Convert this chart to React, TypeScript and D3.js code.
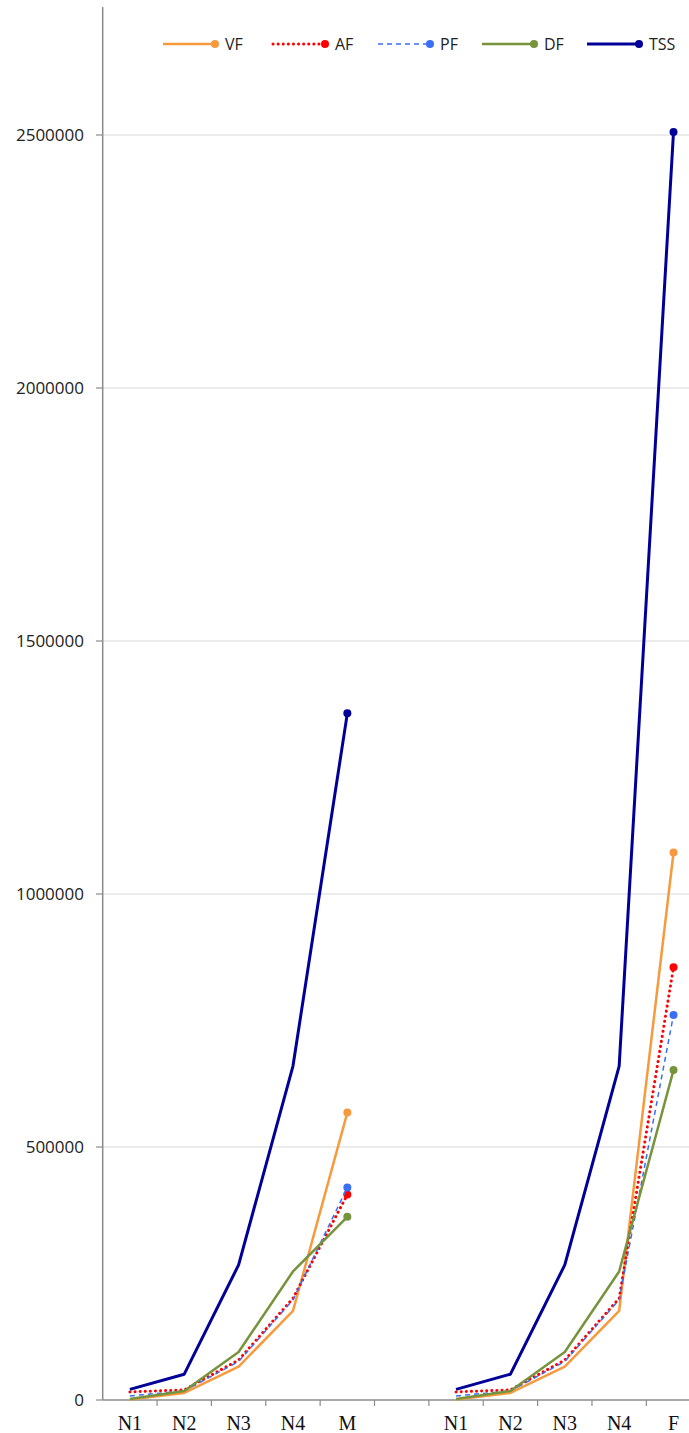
import React from "react";
import * as d3 from "d3";

const categories = ["N1", "N2", "N3", "N4", "M", "", "N1", "N2", "N3", "N4", "F"];

const VF = [1000, 14000, 66000, 176000, 568000, null, 1000, 14000, 66000, 176000, 1082000];
const AF = [16000, 20000, 79000, 201000, 406000, null, 16000, 20000, 79000, 201000, 855000];
const PF = [8000, 18000, 76000, 198000, 420000, null, 8000, 18000, 76000, 198000, 761000];
const DF = [2000, 18000, 95000, 254000, 362000, null, 2000, 18000, 95000, 254000, 652000];
const TSS = [21000, 51000, 267000, 660000, 1357000, null, 21000, 51000, 267000, 660000, 2506000];

const yTicks = [0, 500000, 1000000, 1500000, 2000000, 2500000];

const series = [
  { name: "VF", values: VF, color: "#F79A3E", width: 2.5, dash: null, cap: "butt" },
  { name: "AF", values: AF, color: "#FF0000", width: 3, dash: "0.1 5", cap: "round" },
  { name: "PF", values: PF, color: "#3A6EF5", width: 1.5, dash: "5 4", cap: "butt" },
  { name: "DF", values: DF, color: "#77933C", width: 2.5, dash: null, cap: "butt" },
  { name: "TSS", values: TSS, color: "#000099", width: 3, dash: null, cap: "butt" },
];

const W = 689;
const H = 1433;

export default function App() {
  const x = d3.scaleBand<number>()
    .domain(categories.map((_, i) => i))
    .range([102.7, 700.7]);

  const y = d3.scaleLinear()
    .domain([0, 2500000])
    .range([1400, 135]);

  const cx = (i: number) => (x(i) as number) + x.bandwidth() / 2;

  const line = d3.line<number | null>()
    .defined(d => d != null)
    .x((_, i) => cx(i))
    .y(d => y(d as number));

  // marker on last point of each group
  const endIdx = [4, 10];

  const legendX = [163, 273, 378, 482, 587];
  const legendY = 44;

  return (
    <svg width={W} height={H} style={{ position: "absolute", left: 0, top: 0 }}
      fontFamily="'Open Sans', sans-serif">
      <rect width={W} height={H} fill="#fff" />

      {/* gridlines */}
      {yTicks.slice(1).map(t => (
        <line key={t} x1={102.7} x2={W} y1={y(t)} y2={y(t)} stroke="#D9D9D9" strokeWidth={1.2} />
      ))}

      {/* y axis */}
      <line x1={102.7} x2={102.7} y1={7} y2={1400} stroke="#8C8C8C" strokeWidth={1.5} />
      {yTicks.map(t => (
        <g key={t}>
          <line x1={96} x2={102.7} y1={y(t)} y2={y(t)} stroke="#8C8C8C" strokeWidth={1.2} />
          <text x={84} y={y(t)} dy="0.35em" textAnchor="end" fontSize={17} fill="#222">{t}</text>
        </g>
      ))}

      {/* x axis */}
      <line x1={102.7} x2={W} y1={1400} y2={1400} stroke="#8C8C8C" strokeWidth={1.5} />
      {categories.map((c, i) => (
        <g key={i}>
          <line x1={(x(i) as number) + x.bandwidth()} x2={(x(i) as number) + x.bandwidth()}
            y1={1400} y2={1406} stroke="#8C8C8C" strokeWidth={1.2} />
          <text x={cx(i)} y={1430} textAnchor="middle" fontSize={20}
            fontFamily="'Liberation Serif', 'Times New Roman', serif" fill="#111">{c}</text>
        </g>
      ))}

      {/* series */}
      {series.map(s => (
        <g key={s.name}>
          <path d={line(s.values) || ""} fill="none" stroke={s.color} strokeWidth={s.width}
            strokeDasharray={s.dash || undefined} strokeLinecap={s.cap as any} strokeLinejoin="round" />
          {endIdx.map(i => (
            <circle key={i} cx={cx(i)} cy={y(s.values[i] as number)} r={4} fill={s.color} />
          ))}
        </g>
      ))}

      {/* legend */}
      {series.map((s, k) => (
        <g key={s.name} transform={`translate(${legendX[k]},${legendY})`}>
          <line x1={0} x2={52} y1={0} y2={0} stroke={s.color} strokeWidth={s.width}
            strokeDasharray={s.dash || undefined} strokeLinecap={s.cap as any} />
          <circle cx={52} cy={0} r={4} fill={s.color} />
          <text x={62} y={0} dy="0.35em" fontSize={16} fill="#222">{s.name}</text>
        </g>
      ))}
    </svg>
  );
}
